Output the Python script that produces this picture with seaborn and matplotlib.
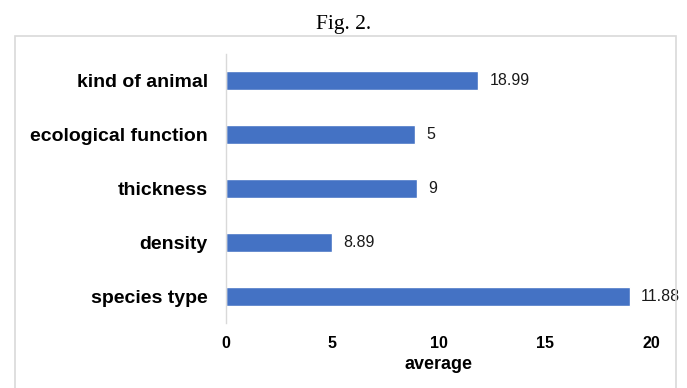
import matplotlib as mpl
mpl.use("Agg")
import matplotlib.pyplot as plt
import seaborn as sns
import pandas as pd
from matplotlib.patches import Rectangle

# bar lengths as drawn, and the value labels printed next to them
categories = ["kind of animal", "ecological function", "thickness", "density", "species type"]
averages = [11.88, 8.89, 9.0, 5.0, 18.99]
value_labels = ["18.99", "5", "9", "8.89", "11.88"]
x_ticks = [0, 5, 10, 15, 20]


def main():
    df = pd.DataFrame({"category": categories, "average": averages})

    sns.set_style("white")
    plt.rcParams["font.family"] = ["Liberation Sans", "DejaVu Sans"]

    fig = plt.figure(figsize=(6.87, 3.88), dpi=100)
    ax = fig.add_axes([226 / 687, 1 - 323 / 388, 425 / 687, 269 / 388])

    # chart frame (light grey box behind the plot)
    fig.patches.append(Rectangle((15 / 687, -0.1), 661 / 687, 1 - 35.5 / 388 + 0.1,
                                 transform=fig.transFigure, fill=False,
                                 edgecolor="#d9d9d9", linewidth=1.2, zorder=0))
    fig.text(0.5, 1 - 24 / 388, "Fig. 2.", ha="center", va="center",
             fontsize=15.5, family="Liberation Serif", color="black")

    sns.barplot(data=df, x="average", y="category", orient="h",
                color="#4472C4", saturation=1, width=0.35, ax=ax)

    for i, (v, lab) in enumerate(zip(averages, value_labels)):
        ax.annotate(lab, xy=(v, i), xytext=(8, 0), textcoords="offset points",
                    ha="left", va="center", fontsize=11.5, color="#1a1a1a",
                    annotation_clip=False)

    ax.set_xlim(0, 20)
    ax.set_ylim(4.5, -0.5)
    ax.set_xticks(x_ticks)
    ax.set_xticklabels([str(t) for t in x_ticks], fontsize=11.5, fontweight="bold", color="black")
    ax.set_yticklabels(categories, fontsize=14, fontweight="bold", color="black")
    ax.tick_params(axis="x", length=0, pad=9)
    ax.tick_params(axis="y", length=0, pad=13)
    ax.set_xlabel("average", fontsize=13, fontweight="bold", labelpad=4, color="black")
    ax.set_ylabel("")

    for s in ["top", "right", "bottom"]:
        ax.spines[s].set_visible(False)
    ax.spines["left"].set_color("#d9d9d9")
    ax.spines["left"].set_linewidth(1)

    fig.savefig("out.png", dpi=100)


if __name__ == "__main__":
    main()
